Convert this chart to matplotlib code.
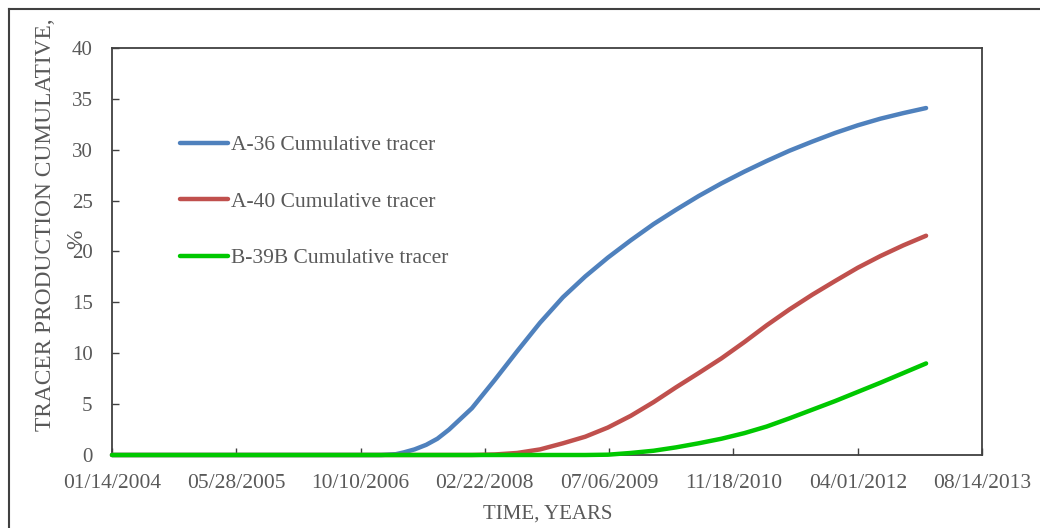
import pandas as pd
import matplotlib
matplotlib.use("Agg")
import matplotlib.pyplot as plt
import matplotlib.dates as mdates
from matplotlib.lines import Line2D

plt.rcParams['font.family'] = ['Liberation Serif', 'DejaVu Serif']

#%% data (cumulative tracer, %)
dates = ['2004-01-14', '2007-01-01', '2007-03-01', '2007-04-01', '2007-05-15',
         '2007-07-01', '2007-08-15', '2007-10-01',
         '2008-01-01', '2008-04-01', '2008-07-01', '2008-10-01',
         '2009-01-01', '2009-04-01', '2009-07-01', '2009-10-01',
         '2010-01-01', '2010-04-01', '2010-07-01', '2010-10-01',
         '2011-01-01', '2011-04-01', '2011-07-01', '2011-10-01',
         '2012-01-01', '2012-04-01', '2012-07-01', '2012-10-01',
         '2013-01-01']

a36 = [0, 0, 0.08, 0.25, 0.55,
       1.0, 1.6, 2.5,
       4.6, 7.35, 10.2, 13.0,
       15.5, 17.55, 19.4, 21.1,
       22.7, 24.1, 25.45, 26.7,
       27.85, 28.9, 29.9, 30.8,
       31.65, 32.4, 33.05, 33.6,
       34.1]

a40 = [0, 0, 0, 0, 0,
       0, 0, 0,
       0, 0.05, 0.2, 0.55,
       1.15, 1.8, 2.7, 3.85,
       5.2, 6.65, 8.05, 9.5,
       11.1, 12.75, 14.3, 15.75,
       17.1, 18.4, 19.55, 20.6,
       21.55]

b39b = [0, 0, 0, 0, 0,
        0, 0, 0,
        0, 0, 0, 0,
        0, 0, 0.03, 0.2,
        0.42, 0.75, 1.15, 1.6,
        2.15, 2.8, 3.6, 4.45,
        5.3, 6.2, 7.1, 8.05,
        9.0]

labels = ['A-36 Cumulative tracer', 'A-40 Cumulative tracer', 'B-39B Cumulative tracer']
colores = ['#4F81BD', '#C0504D', '#00C800']

x_start = '2004-01-14'
x_end = '2013-08-14'
tick_step = '500D'
yticks = [0, 5, 10, 15, 20, 25, 30, 35, 40]

#%% figure
W, H = 1040, 528
fig = plt.figure(figsize=(W / 100, H / 100), dpi=100)
ax = fig.add_axes([112 / W, 73 / H, 870 / W, 407 / H])

tt = pd.to_datetime(dates)
for serie, lab, col in zip([a36, a40, b39b], labels, colores):
    ax.plot(tt, serie, color=col, lw=3.2, label=lab, solid_capstyle='round',
            solid_joinstyle='round', clip_on=False, zorder=3)

ax.set_xlim(pd.Timestamp(x_start), pd.Timestamp(x_end))
ax.set_ylim(0, 40)
ax.set_xticks(pd.date_range(x_start, periods=8, freq=tick_step))
ax.xaxis.set_major_formatter(mdates.DateFormatter('%m/%d/%Y'))
ax.set_yticks(yticks)

gris = '#595959'
for s in ax.spines.values():
    s.set_color('#404040')
    s.set_linewidth(1.3)
ax.tick_params(direction='in', length=5, width=1, color='#404040',
               labelsize=15, labelcolor=gris)
ax.tick_params(axis='x', pad=14, labelsize=15.5)
ax.tick_params(axis='y', pad=14)

# axis titles (y title is wrapped in two lines in the original)
fig.text(46 / W, 1 - 225 / H, 'TRACER PRODUCTION CUMULATIVE,', rotation=90,
         ha='center', va='center', fontsize=16.8, color=gris)
fig.text(77 / W, 1 - 239 / H, '%', rotation=90,
         ha='center', va='center', fontsize=16.8, color=gris)
fig.text(548 / W, 1 - 514 / H, 'TIME, YEARS', ha='center', va='center',
         fontsize=15, color=gris)

leg = ax.legend(loc='upper left', bbox_to_anchor=(180 / W, 1 - 135 / H),
                bbox_transform=fig.transFigure, frameon=False, fontsize=15.5,
                handlelength=2.23, handletextpad=0.15, labelspacing=1.7,
                borderpad=0, borderaxespad=0)
for t in leg.get_texts():
    t.set_color(gris)

# outer chart border (only left and top are inside the picture)
fig.add_artist(Line2D([9 / W, 9 / W], [0, 1 - 9 / H], transform=fig.transFigure,
                      color='#404040', lw=1.5))
fig.add_artist(Line2D([9 / W, 1], [1 - 9 / H, 1 - 9 / H], transform=fig.transFigure,
                      color='#404040', lw=1.5))

fig.savefig('out.png', dpi=100)
